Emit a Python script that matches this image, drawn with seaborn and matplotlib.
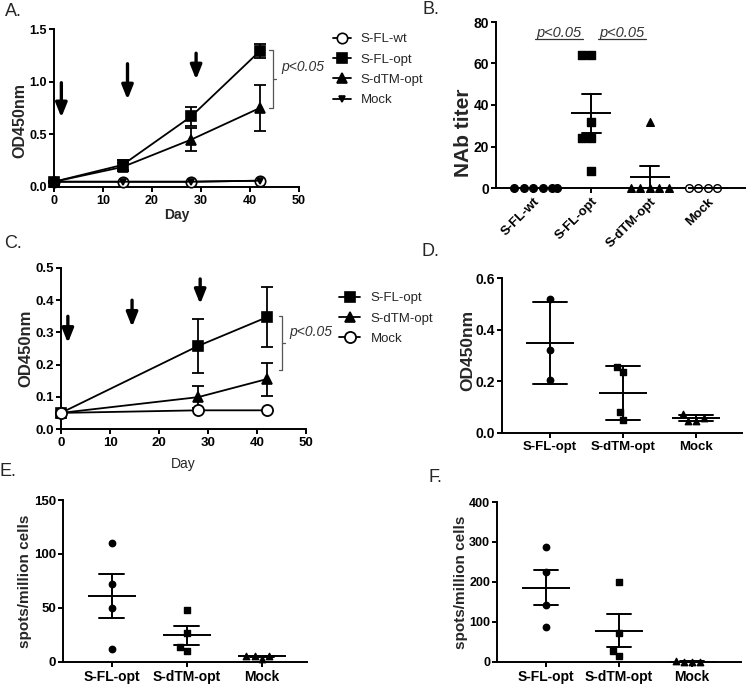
import numpy as np
import pandas as pd
import matplotlib
matplotlib.use("Agg")
import matplotlib.pyplot as plt
import seaborn as sns

# ------------------------------------------------------------------ data
# Panel A: OD450 over time
days_a = [0, 14, 28, 42]
a_sfl_wt = [0.05, 0.05, 0.05, 0.06]
a_sfl_opt = [0.05, 0.21, 0.67, 1.29]
a_sfl_opt_err = [0.01, 0.05, 0.09, 0.07]
a_sdtm_opt = [0.05, 0.19, 0.45, 0.75]
a_sdtm_opt_err = [0.01, 0.04, 0.11, 0.22]
a_mock = [0.05, 0.05, 0.05, 0.06]
a_arrow_days = [1.5, 15, 29]
a_arrow_top = [0.99, 1.17, 1.27]
a_arrow_bottom = [0.66, 0.83, 1.02]

# Panel B: NAb titer
b_groups = ["S-FL-wt", "S-FL-opt", "S-dTM-opt", "Mock"]
b_sfl_wt = [0, 0, 0, 0, 0, 0]
b_sfl_opt = [64, 64, 32, 24, 24, 8]
b_sdtm_opt = [32, 0, 0, 0, 0, 0]
b_mock = [0, 0, 0, 0]

# Panel C: OD450 over time
days_c = [0, 28, 42]
c_sfl_opt = [0.05, 0.258, 0.347]
c_sfl_opt_err = [0.0, 0.083, 0.093]
c_sdtm_opt = [0.05, 0.099, 0.155]
c_sdtm_opt_err = [0.0, 0.033, 0.051]
c_mock = [0.05, 0.058, 0.058]
c_arrow_days = [1.4, 14.5, 28.4]
c_arrow_top = [0.35, 0.40, 0.466]
c_arrow_bottom = [0.267, 0.317, 0.388]

# Panels D, E, F
def_groups = ["S-FL-opt", "S-dTM-opt", "Mock"]
d_sfl_opt = [0.52, 0.32, 0.205]
d_sdtm_opt = [0.255, 0.235, 0.08, 0.052]
d_mock = [0.058, 0.048, 0.048, 0.072]

e_sfl_opt = [110, 72, 50, 12]
e_sdtm_opt = [48, 27, 14, 10]
e_mock = [6, 3, 6, 6]

f_sfl_opt = [287, 225, 142, 88]
f_sdtm_opt = [200, 72, 28, 15]
f_mock = [1, 0, 0, 3]

# ------------------------------------------------------------------ style
sns.set_style("ticks")
plt.rcParams["font.family"] = ["Liberation Sans", "DejaVu Sans"]
plt.rcParams["axes.linewidth"] = 1.4
plt.rcParams["xtick.major.width"] = 1.4
plt.rcParams["ytick.major.width"] = 1.4
plt.rcParams["xtick.major.size"] = 3.5
plt.rcParams["ytick.major.size"] = 3.5
plt.rcParams["xtick.major.pad"] = 2
plt.rcParams["ytick.major.pad"] = 1.5
plt.rcParams["axes.edgecolor"] = "black"
plt.rcParams["xtick.color"] = "black"
plt.rcParams["ytick.color"] = "black"

W, H = 750, 688
fig = plt.figure(figsize=(W / 100, H / 100), dpi=100)


def add_ax(left, top, right, bottom):
    return fig.add_axes([left / W, 1 - bottom / H, (right - left) / W, (bottom - top) / H])


def style_ticks(ax, size, xsize=None):
    for lab in ax.get_yticklabels():
        lab.set_fontweight("bold")
        lab.set_fontsize(size)
    for lab in ax.get_xticklabels():
        lab.set_fontweight("bold")
        lab.set_fontsize(xsize if xsize else size)
    sns.despine(ax=ax)


def series(ax, x, y, err, marker, ms, label, face="black", mew=1.2):
    sns.lineplot(x=x, y=y, ax=ax, color="black", linewidth=1.3, marker=marker,
                 markersize=ms, markerfacecolor=face, markeredgecolor="black",
                 markeredgewidth=mew, label=label, clip_on=False, zorder=3)
    if err is not None:
        ax.errorbar(x, y, yerr=err, fmt="none", ecolor="black", elinewidth=1.3,
                    capsize=4, capthick=1.3, clip_on=False, zorder=2)


def arrows(ax, xs, tops, bottoms):
    for x, t, b in zip(xs, tops, bottoms):
        ax.annotate("", xy=(x, b), xytext=(x, t),
                    arrowprops=dict(arrowstyle="-|>,head_width=0.34,head_length=0.85",
                                    lw=2.4, color="black", shrinkA=0, shrinkB=0,
                                    mutation_scale=10))


def bracket(ax, x, y0, y1, dx, text_xy):
    ym = (y0 + y1) / 2
    ax.plot([x - dx, x, x, x - dx], [y0, y0, y1, y1], color="#555555", lw=0.9,
            clip_on=False)
    ax.plot([x, x + dx], [ym, ym], color="#555555", lw=0.9, clip_on=False)
    ax.text(text_xy[0], text_xy[1], "p<0.05", style="italic", fontsize=10,
            color="#333333", ha="left", va="center", clip_on=False)


# ------------------------------------------------------------------ Panel A
axA = add_ax(54, 29, 299, 187)
series(axA, days_a, a_sfl_wt, None, "o", 7.5, "S-FL-wt", face="white")
series(axA, days_a, a_sfl_opt, a_sfl_opt_err, "s", 7, "S-FL-opt")
series(axA, days_a, a_sdtm_opt, a_sdtm_opt_err, "^", 7.5, "S-dTM-opt")
series(axA, days_a, a_mock, None, "v", 4.5, "Mock")
axA.set_xlim(0, 50)
axA.set_ylim(0, 1.5)
axA.set_xticks([0, 10, 20, 30, 40, 50])
axA.set_yticks([0.0, 0.5, 1.0, 1.5])
axA.set_yticklabels(["0.0", "0.5", "1.0", "1.5"])
axA.set_xlabel("Day", fontsize=10, fontweight="bold")
axA.set_ylabel("OD450nm", fontsize=11.5, fontweight="bold")
axA.yaxis.set_label_coords(-0.11, 0.42)
axA.xaxis.set_label_coords(0.5, -0.135)
arrows(axA, a_arrow_days, a_arrow_top, a_arrow_bottom)
bracket(axA, 44.6, 0.75, 1.30, 0.7, (46.3, 1.14))
axA.legend(loc="upper left", bbox_to_anchor=(333 / W, 1 - 33 / H),
           bbox_transform=fig.transFigure, frameon=False, fontsize=9.5,
           handlelength=1.4, handletextpad=0.7, labelspacing=0.62,
           borderpad=0, borderaxespad=0)
style_ticks(axA, 9)


# ------------------------------------------------------------------ dot panels
def dot_panel(ax, groups, data_series, markers, faces, size, line_ms, capsize, errorbar):
    rows = []
    for g, vals in zip(groups, data_series):
        rows += [(g, v) for v in vals]
    df = pd.DataFrame(rows, columns=["group", "value"])
    for g, m, f in zip(groups, markers, faces):
        sub = df[df["group"] == g]
        sns.swarmplot(data=sub, x="group", y="value", order=groups, marker=m,
                      color=f, edgecolor="black", linewidth=1, size=size, ax=ax,
                      clip_on=False, zorder=3)
    sns.pointplot(data=df, x="group", y="value", order=groups, errorbar=errorbar,
                  capsize=capsize, color="black", markers="_", linestyles="none",
                  markersize=line_ms, markeredgewidth=1.4, linewidth=1.4,
                  err_kws={"linewidth": 1.4, "zorder": 4}, ax=ax, zorder=4)
    ax.set_xlabel("")


# Panel B
axB = add_ax(496, 22, 745, 188)
dot_panel(axB, b_groups, [b_sfl_wt, b_sfl_opt, b_sdtm_opt, b_mock],
          ["o", "s", "^", "o"], ["black", "black", "black", "white"],
          5.5, 29, 0.34, "se")
axB.set_xlim(-0.64, 3.64)
axB.set_ylim(0, 80)
axB.set_yticks([0, 20, 40, 60, 80])
axB.set_ylabel("NAb titer", fontsize=15, fontweight="bold")
axB.yaxis.set_label_coords(-0.092, 0.33)
style_ticks(axB, 10, 9.5)
for lab in axB.get_xticklabels():
    lab.set_rotation(45)
    lab.set_ha("right")
    lab.set_rotation_mode("anchor")
for xs, xe, xt in [(0.03, 0.86, 0.45), (1.12, 1.93, 1.52)]:
    axB.text(xt, 74.8, "p<0.05", style="italic", fontsize=10.5, color="#333333",
             ha="center", va="center")
    axB.plot([xs, xe], [71.6, 71.6], color="#333333", lw=0.9)

# ------------------------------------------------------------------ Panel C
axC = add_ax(61, 268, 306, 429)
series(axC, days_c, c_sfl_opt, c_sfl_opt_err, "s", 7.5, "S-FL-opt")
series(axC, days_c, c_sdtm_opt, c_sdtm_opt_err, "^", 7.5, "S-dTM-opt")
series(axC, days_c, c_mock, None, "o", 8, "Mock", face="white", mew=1.3)
axC.set_xlim(0, 50)
axC.set_ylim(0, 0.5)
axC.set_xticks([0, 10, 20, 30, 40, 50])
axC.set_yticks([0.0, 0.1, 0.2, 0.3, 0.4, 0.5])
axC.set_yticklabels(["0.0", "0.1", "0.2", "0.3", "0.4", "0.5"])
axC.set_xlabel("Day", fontsize=10)
axC.set_ylabel("OD450nm", fontsize=12, fontweight="bold")
axC.yaxis.set_label_coords(-0.112, 0.5)
axC.xaxis.set_label_coords(0.5, -0.175)
arrows(axC, c_arrow_days, c_arrow_top, c_arrow_bottom)
bracket(axC, 45.1, 0.183, 0.351, 0.7, (46.6, 0.30))
axC.legend(loc="upper left", bbox_to_anchor=(339 / W, 1 - 292 / H),
           bbox_transform=fig.transFigure, frameon=False, fontsize=9.5,
           handlelength=1.6, handletextpad=0.8, labelspacing=0.62,
           borderpad=0, borderaxespad=0)
style_ticks(axC, 9.5)

# ------------------------------------------------------------------ Panel D
axD = add_ax(502, 278, 742, 433)
dot_panel(axD, def_groups, [d_sfl_opt, d_sdtm_opt, d_mock],
          ["o", "s", "^"], ["black", "black", "black"], 4.6, 35, 0.47, "sd")
axD.set_xlim(-0.66, 2.63)
axD.set_ylim(0, 0.6)
axD.set_yticks([0.0, 0.2, 0.4, 0.6])
axD.set_yticklabels(["0.0", "0.2", "0.4", "0.6"])
axD.set_ylabel("OD450nm", fontsize=12.5, fontweight="bold")
axD.yaxis.set_label_coords(-0.1125, 0.53)
style_ticks(axD, 10, 9.5)

# ------------------------------------------------------------------ Panel E
axE = add_ax(63, 500, 307, 662)
dot_panel(axE, def_groups, [e_sfl_opt, e_sdtm_opt, e_mock],
          ["o", "s", "^"], ["black", "black", "black"], 4.6, 35, 0.33, "se")
axE.set_xlim(-0.65, 2.6)
axE.set_ylim(0, 150)
axE.set_yticks([0, 50, 100, 150])
axE.set_ylabel("spots/million cells", fontsize=11, fontweight="bold")
axE.yaxis.set_label_coords(-0.128, 0.5)
style_ticks(axE, 9.5, 10)

# ------------------------------------------------------------------ Panel F
axF = add_ax(497, 502, 741, 662)
dot_panel(axF, def_groups, [f_sfl_opt, f_sdtm_opt, f_mock],
          ["o", "s", "^"], ["black", "black", "black"], 4.6, 35, 0.34, "se")
axF.set_xlim(-0.67, 2.67)
axF.set_ylim(0, 400)
axF.set_yticks([0, 100, 200, 300, 400])
axF.set_ylabel("spots/million cells", fontsize=11, fontweight="bold")
axF.yaxis.set_label_coords(-0.119, 0.5)
style_ticks(axF, 9, 10)

# ------------------------------------------------------------------ panel letters
for letter, (px, py) in {"A.": (13, 12), "B.": (431, 10), "C.": (13, 244),
                         "D.": (430, 251), "E.": (8, 471), "F.": (435, 478)}.items():
    fig.text(px / W, 1 - py / H, letter, fontsize=13, ha="center", va="center")

fig.savefig("out.png", dpi=100)
